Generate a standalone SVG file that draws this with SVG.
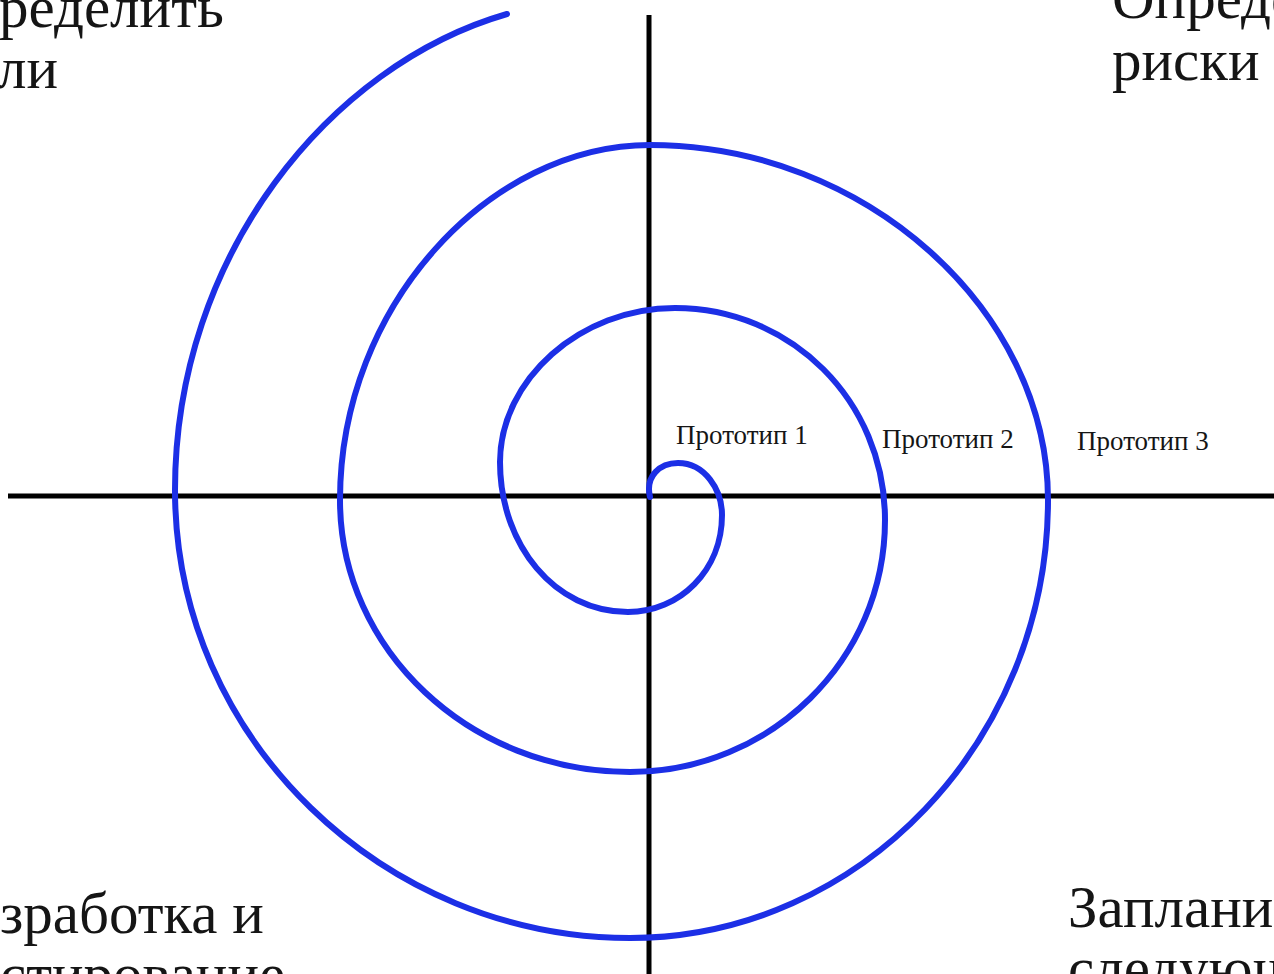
<svg xmlns="http://www.w3.org/2000/svg" width="1274" height="974" viewBox="0 0 1274 974">
  <style>
    .big { font-family: "Liberation Serif", "Times New Roman", serif; font-size: 59px; fill: #151515; }
    .small { font-family: "Liberation Serif", "Times New Roman", serif; font-size: 27px; fill: #151515; }
    .axis { stroke: #000; stroke-width: 5; fill: none; }
    .spiral { stroke: #1c2fe6; stroke-width: 6; fill: none; stroke-linecap: round; stroke-linejoin: round; }
  </style>
  <rect width="1274" height="974" fill="#ffffff"/>
  <g id="axes">
    <line class="axis" x1="649" y1="15" x2="649" y2="974"/>
    <line class="axis" x1="8" y1="496" x2="1274" y2="496"/>
  </g>
  <g id="spiral">
    <path class="spiral" d="M650,497 C645,476 660,463 678,463 C705,463 722,490 722,515 C722,570 680,612 628,612 C555,612 500,545 500,462 C500,380 580,308 675,308 C790,308 885,400 885,520 C885,660 770,772 630,772 C470,772 340,650 340,500 C340,305 490,145 650,145 C865,145 1048,310 1048,500 C1048,740 860,938 630,938 C385,938 175,740 175,490 C175,255 330,65 507,14"/>
  </g>
  <g id="quadrant-labels">
    <g id="label-goals">
      <text class="big" x="-1" y="27">ределить</text>
      <text class="big" x="-3" y="88">ли</text>
    </g>
    <g id="label-risks">
      <text class="big" x="1112" y="18">Опреде</text>
      <text class="big" x="1112" y="80">риски</text>
    </g>
    <g id="label-develop">
      <text class="big" x="0" y="933">зработка и</text>
      <text class="big" x="0" y="994">стирование</text>
    </g>
    <g id="label-plan">
      <text class="big" x="1068" y="927">Заплани</text>
      <text class="big" x="1068" y="988">следующ</text>
    </g>
  </g>
  <g id="prototype-labels">
    <text class="small" x="676" y="444">Прототип 1</text>
    <text class="small" x="882" y="448">Прототип 2</text>
    <text class="small" x="1077" y="450">Прототип 3</text>
  </g>
</svg>
